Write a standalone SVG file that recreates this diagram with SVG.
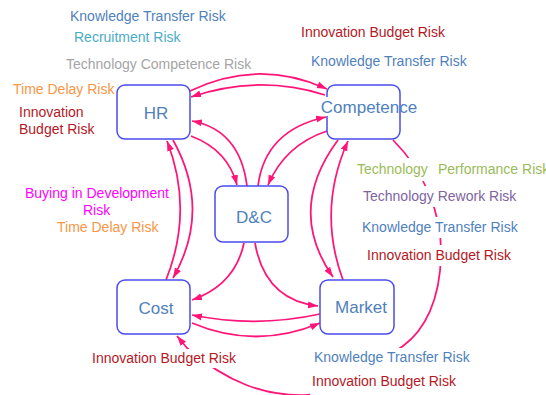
<svg xmlns="http://www.w3.org/2000/svg" width="546" height="395" viewBox="0 0 546 395">
<style>
text{font-family:"Liberation Sans",Arial,sans-serif;}
.lbl{font-size:14px;}
.node rect{fill:#fff;stroke:#4b4bf0;stroke-width:1.5;}
.node rect.tb{stroke:none;}
.node text{font-size:17px;fill:#4f81bd;text-anchor:middle;}
.c{fill:none;stroke:#ff1477;stroke-width:1.75;marker-end:url(#ah);}
.bg{fill:#fff;}
.ktr{fill:#4f81bd;}
.ibr{fill:#b3191f;}
.tdr{fill:#f79646;}
</style>
<defs>
<marker id="ah" markerUnits="userSpaceOnUse" markerWidth="10" markerHeight="8" refX="10" refY="4" orient="auto">
<path d="M0,0.5 L10,4 L0,7.5 z" fill="#ff1477"/>
</marker>
</defs>
<g id="connectors">
<path class="c" d="M190,91 Q258,58 327,89"/>
<path class="c" d="M325,95 Q258,74 191,97"/>
<path class="c" d="M191,136 Q228,150 237,185"/>
<path class="c" d="M247,186 Q240,130 192,121"/>
<path class="c" d="M258,186 Q265,130 326,117"/>
<path class="c" d="M327,131 Q285,145 268,185"/>
<path class="c" d="M173,140 Q212,210 173,278"/>
<path class="c" d="M166,280 Q194,210 167,141"/>
<path class="c" d="M244,243 Q235,285 192,300"/>
<path class="c" d="M255,243 Q265,300 318,306"/>
<path class="c" d="M320,314 Q256,328 192,315"/>
<path class="c" d="M192,323 Q256,350 320,323"/>
<path class="c" d="M338,140 Q286,210 333,277"/>
<path class="c" d="M343,280 Q317,210 348,141"/>
<path class="c" d="M393,140 C425,172 442,215 441,255 C440,300 425,330 403,346 C380,362 345,394 305,395 C265,396 228,383 187,348 L177,336"/>
</g>
<g id="label-backgrounds">
<rect class="bg" x="355" y="158" width="191" height="23"/>
<rect class="bg" x="361" y="186" width="160" height="21"/>
<rect class="bg" x="360" y="217" width="160" height="21"/>
<rect class="bg" x="365" y="245" width="148" height="21"/>
<rect class="bg" x="312" y="348" width="162" height="23"/>
<rect class="bg" x="310" y="371" width="150" height="24"/>
<rect class="bg" x="90" y="349" width="149" height="19"/>
</g>
<g id="HR" class="node"><rect x="117" y="85" width="73" height="54" rx="8"/><text x="156" y="119">HR</text></g>
<g id="Competence" class="node"><rect x="327" y="85" width="73" height="54" rx="8"/><rect class="tb" x="321" y="97" width="78" height="19"/><text x="369" y="113">Competence</text></g>
<g id="DC" class="node"><rect x="215" y="186" width="73" height="56" rx="8"/><text x="254" y="223">D&amp;C</text></g>
<g id="Cost" class="node"><rect x="117" y="280" width="73" height="54" rx="8"/><text x="156" y="314">Cost</text></g>
<g id="Market" class="node"><rect x="320" y="280" width="74" height="54" rx="8"/><text x="361" y="313">Market</text></g>
<g id="labels" class="lbl">
<text x="70" y="21" class="ktr">Knowledge Transfer Risk</text>
<text x="74" y="42" fill="#4bacc6">Recruitment Risk</text>
<text x="66" y="69" fill="#a5a5a5">Technology Competence Risk</text>
<text x="13" y="94" class="tdr">Time Delay Risk</text>
<text x="19" y="117" class="ibr">Innovation</text>
<text x="19" y="134" class="ibr">Budget Risk</text>
<text x="301" y="37" class="ibr">Innovation Budget Risk</text>
<text x="311" y="66" class="ktr">Knowledge Transfer Risk</text>
<text y="174" fill="#9bbb59"><tspan x="357">Technology</tspan><tspan x="438">Performance Risk</tspan></text>
<text x="363" y="201" fill="#8064a2">Technology Rework Risk</text>
<text x="362" y="232" class="ktr">Knowledge Transfer Risk</text>
<text x="367" y="260" class="ibr">Innovation Budget Risk</text>
<text x="25" y="198" fill="#ff00ff">Buying in Development</text>
<text x="83" y="215" fill="#ff00ff">Risk</text>
<text x="57" y="232" class="tdr">Time Delay Risk</text>
<text x="92" y="363" class="ibr">Innovation Budget Risk</text>
<text x="314" y="362" class="ktr">Knowledge Transfer Risk</text>
<text x="312" y="386" class="ibr">Innovation Budget Risk</text>
</g>
</svg>
